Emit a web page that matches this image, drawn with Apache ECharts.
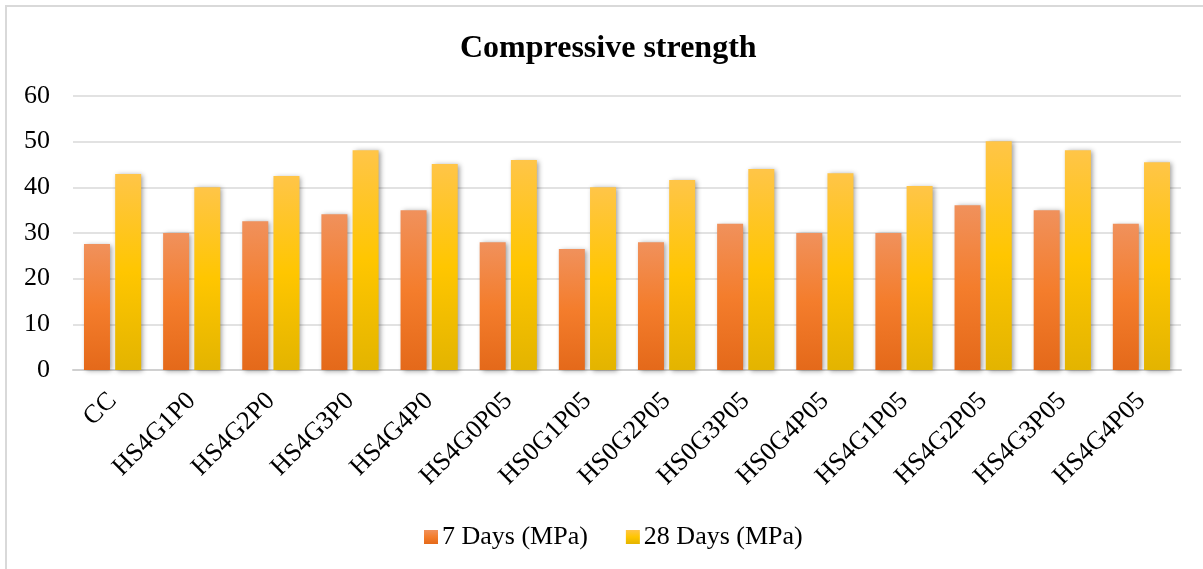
<!DOCTYPE html>
<html>
<head>
<meta charset="utf-8">
<script src="https://cdn.jsdelivr.net/npm/echarts@6/dist/echarts.min.js"></script>
<style>
html,body{margin:0;padding:0;background:#fff;}
#c{width:1203px;height:569px;}
</style>
</head>
<body>
<div id="c"></div>
<script>
const categories = ['CC','HS4G1P0','HS4G2P0','HS4G3P0','HS4G4P0','HS4G0P05','HS0G1P05','HS0G2P05','HS0G3P05','HS0G4P05','HS4G1P05','HS4G2P05','HS4G3P05','HS4G4P05'];
const days7 = [27.6, 30.0, 32.6, 34.1, 35.0, 28.0, 26.5, 28.0, 32.0, 30.0, 30.0, 36.1, 35.0, 32.0];
const days28 = [42.9, 40.0, 42.5, 48.1, 45.1, 46.0, 40.0, 41.6, 44.0, 43.1, 40.3, 50.1, 48.1, 45.5];
const seriesNames = ['7 Days (MPa)', '28 Days (MPa)'];
const yTicks = { min: 0, max: 60, interval: 10 };

const font = 'Liberation Serif, Times New Roman, serif';
const grad = (a, b, c) => new echarts.graphic.LinearGradient(0, 0, 0, 1, [
  { offset: 0, color: a }, { offset: 0.5, color: b }, { offset: 1, color: c }
]);
const orange = grad('#F0915C', '#F47D2C', '#E4691A');
const yellow = grad('#FFC548', '#FFC600', '#E3B400');
const shadow = { shadowColor: 'rgba(0,0,0,0.4)', shadowBlur: 5, shadowOffsetX: 2, shadowOffsetY: 1 };

const chart = echarts.init(document.getElementById('c'));
chart.setOption({
  animation: false,
  backgroundColor: '#fff',
  title: {
    text: 'Compressive strength', left: 455, top: 28,
    textStyle: { fontFamily: font, fontSize: 32, fontWeight: 'bold', color: '#000' }
  },
  legend: {
    top: 519, left: 419, itemWidth: 14, itemHeight: 14, itemGap: 38,
    icon: 'rect',
    textStyle: { fontFamily: font, fontSize: 26, color: '#000', padding: [0,0,0,-1] },
    data: seriesNames
  },
  grid: { left: 73, right: 22, top: 96, bottom: 199, containLabel: false },
  xAxis: {
    type: 'category', data: categories,
    axisLine: { lineStyle: { color: '#d0d0d0', width: 2 } },
    axisTick: { show: false },
    axisLabel: { rotate: 45, fontFamily: font, fontSize: 26, color: '#000', margin: 27, interval: 0 }
  },
  yAxis: {
    type: 'value', min: yTicks.min, max: yTicks.max, interval: yTicks.interval,
    axisLine: { show: false }, axisTick: { show: false },
    axisLabel: { fontFamily: font, fontSize: 26, color: '#000', margin: 23 },
    splitLine: { lineStyle: { color: '#d9d9d9', width: 1.5 } }
  },
  graphic: [
    { type: 'line', shape: { x1: 5, y1: 6, x2: 1203, y2: 6 }, style: { stroke: '#d9d9d9', lineWidth: 2 } },
    { type: 'line', shape: { x1: 6, y1: 5, x2: 6, y2: 569 }, style: { stroke: '#d9d9d9', lineWidth: 2 } }
  ],
  series: [
    { name: seriesNames[0], type: 'bar', data: days7, barWidth: 26, barGap: '20%',
      itemStyle: Object.assign({ color: orange }, shadow) },
    { name: seriesNames[1], type: 'bar', data: days28, barWidth: 26,
      itemStyle: Object.assign({ color: yellow }, shadow) }
  ]
});
</script>
</body>
</html>
